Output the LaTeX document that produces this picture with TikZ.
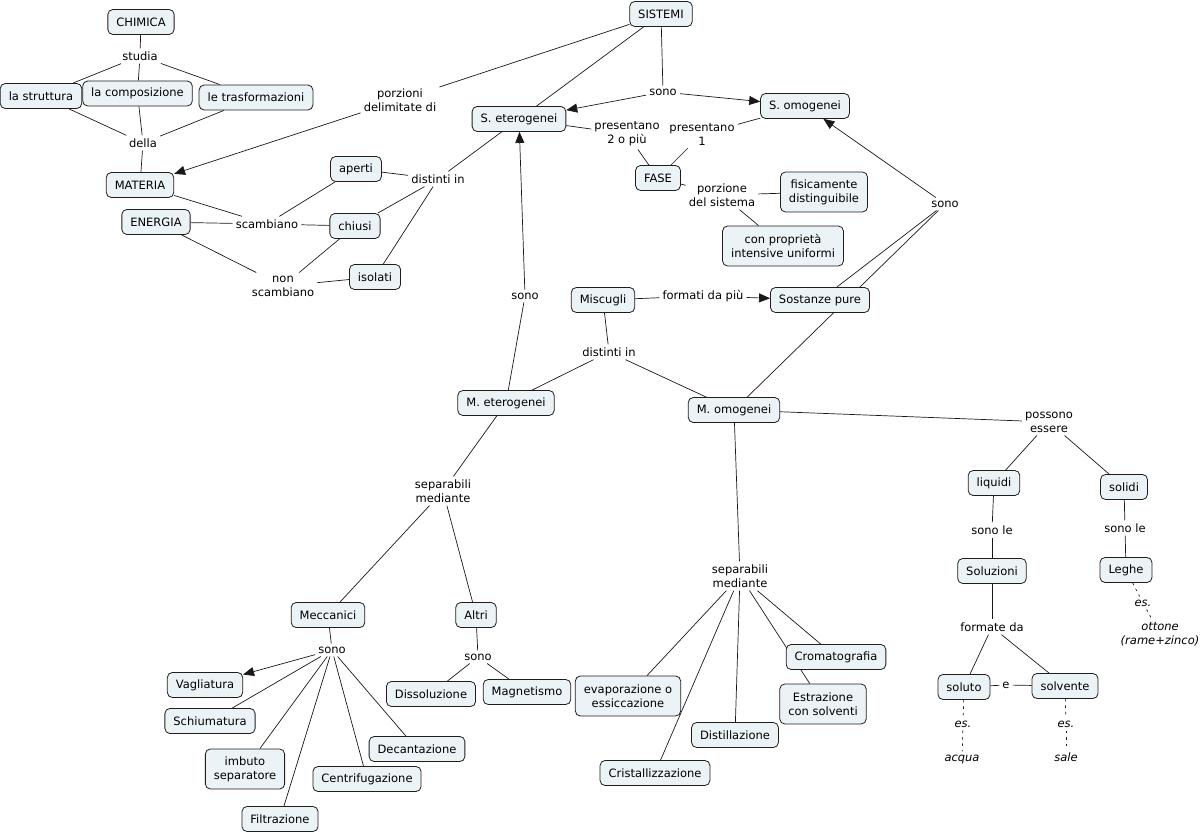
\documentclass[tikz,border=0pt]{standalone}
\usepackage{fontspec}
\setmainfont{DejaVu Sans}
\usetikzlibrary{arrows.meta,backgrounds}
\definecolor{cfill}{RGB}{236,243,246}
\definecolor{cborder}{RGB}{30,30,30}
\tikzset{
  concept/.style={draw=cborder, line width=0.8pt, rounded corners=5pt, fill=cfill,
    inner xsep=8.5pt, inner ysep=0pt, minimum height=25pt, align=center,
    font=\fontsize{11.5}{14}\selectfont},
  concepttwo/.style={concept, minimum height=40pt},
  lab/.style={inner sep=3pt, align=center, font=\fontsize{11.5}{14}\selectfont},
  labit/.style={lab, font=\fontsize{11.5}{14}\selectfont\itshape},
  conn/.style={draw=black!90, line width=0.7pt},
  arr/.style={conn, -{Triangle[length=11pt,width=9pt]}},
  dconn/.style={conn, dash pattern=on 2.5pt off 4pt}
}
\begin{document}
\begin{tikzpicture}[x=1pt,y=-1pt]
\useasboundingbox (0,0) rectangle (1203,834);
% concepts
\node[concept] (chimica) at (141,22) {CHIMICA};
\node[concept] (strutt) at (41,96) {la struttura};
\node[concept] (comp) at (137.5,93.5) {la composizione};
\node[concept] (trasf) at (256,97.5) {le trasformazioni};
\node[concept] (materia) at (140,185) {MATERIA};
\node[concept] (energia) at (156,222) {ENERGIA};
\node[concept] (aperti) at (356,169) {aperti};
\node[concept] (chiusi) at (355,226) {chiusi};
\node[concept] (isolati) at (375,277) {isolati};
\node[concept] (sistemi) at (661,14) {SISTEMI};
\node[concept] (seter) at (519,119) {S. eterogenei};
\node[concept] (somog) at (805,106) {S. omogenei};
\node[concept] (fase) at (658,178) {FASE};
\node[concepttwo] (fisic) at (824,192) {fisicamente\\distinguibile};
\node[concepttwo] (conprop) at (783,246) {con proprietà\\intensive uniformi};
\node[concept] (misc) at (603,300) {Miscugli};
\node[concept] (sost) at (820,300) {Sostanze pure};
\node[concept] (meter) at (506,403) {M. eterogenei};
\node[concept] (momog) at (734,410) {M. omogenei};
\node[concept] (liquidi) at (994,483) {liquidi};
\node[concept] (solidi) at (1124,487) {solidi};
\node[concept] (soluz) at (992,571) {Soluzioni};
\node[concept] (leghe) at (1126,570) {Leghe};
\node[concept] (soluto) at (964,687) {soluto};
\node[concept] (solvente) at (1065,686) {solvente};
\node[concept] (mecc) at (328,615) {Meccanici};
\node[concept] (altri) at (476,615) {Altri};
\node[concept] (vagl) at (205,685) {Vagliatura};
\node[concept] (schium) at (210,721) {Schiumatura};
\node[concepttwo] (imbuto) at (245,769) {imbuto\\separatore};
\node[concept] (filtr) at (280,819) {Filtrazione};
\node[concept] (centr) at (367,779) {Centrifugazione};
\node[concept] (decant) at (417,749) {Decantazione};
\node[concept] (dissol) at (431,694) {Dissoluzione};
\node[concept] (magn) at (527,692) {Magnetismo};
\node[concepttwo] (evap) at (628,696) {evaporazione o\\essiccazione};
\node[concept] (distill) at (735,735) {Distillazione};
\node[concept] (crist) at (655,773) {Cristallizzazione};
\node[concepttwo] (estr) at (823,704) {Estrazione\\con solventi};
\node[concept] (crom) at (836,657) {Cromatografia};
% linking phrases
\node[lab] (studia) at (140,56) {studia};
\node[lab] (della) at (143,143) {della};
\node[lab] (porz) at (400,100) {porzioni\\delimitate di};
\node[lab] (scamb) at (267,224) {scambiano};
\node[lab] (nonscamb) at (283,286) {non\\scambiano};
\node[lab] (dist1) at (438,179) {distinti in};
\node[lab] (sono1) at (663,92) {sono};
\node[lab] (pres2) at (627,134) {presentano\\2 o più};
\node[lab] (pres1) at (702,134) {presentano\\1};
\node[lab] (porzsist) at (722,195) {porzione\\del sistema};
\node[lab] (sono2) at (945,204) {sono};
\node[lab] (sono3) at (525,296) {sono};
\node[lab] (formati) at (703,296) {formati da più};
\node[lab] (dist2) at (609,352) {distinti in};
\node[lab] (sep1) at (443,491) {separabili\\mediante};
\node[lab] (sep2) at (740,576) {separabili\\mediante};
\node[lab] (possono) at (1049,422) {possono\\essere};
\node[lab] (sonole1) at (992,530) {sono le};
\node[lab] (sonole2) at (1125,528) {sono le};
\node[lab] (formate) at (992,627) {formate da};
\node[lab] (e) at (1006,685) {e};
\node[labit] (es1) at (963,724) {es.};
\node[labit] (acqua) at (962,759) {acqua};
\node[labit] (es2) at (1066,724) {es.};
\node[labit] (sale) at (1066,757) {sale};
\node[labit] (es3) at (1143,603) {es.};
\node[labit] (ottone) at (1160,634) {ottone\\(rame+zinco)};
\node[lab] (sono4) at (332,650) {sono};
\node[lab] (sono5) at (478,657) {sono};
% connectors
\begin{pgfonlayer}{background}
\draw[conn] (chimica) -- (studia);
\draw[conn] (studia) -- (strutt);
\draw[conn] (studia) -- (comp);
\draw[conn] (studia) -- (trasf);
\draw[conn] (strutt) -- (della);
\draw[conn] (comp) -- (della);
\draw[conn] (trasf) -- (della);
\draw[conn] (della) -- (materia);
\draw[conn] (sistemi) -- (porz);
\draw[arr] (porz) -- (materia);
\draw[conn] (materia) -- (scamb);
\draw[conn] (energia) -- (scamb);
\draw[conn] (scamb) -- (aperti);
\draw[conn] (scamb) -- (chiusi);
\draw[conn] (energia) -- (nonscamb);
\draw[conn] (nonscamb) -- (chiusi);
\draw[conn] (nonscamb) -- (isolati);
\draw[conn] (sistemi) -- (dist1);
\draw[conn] (dist1) -- (aperti);
\draw[conn] (dist1) -- (chiusi);
\draw[conn] (dist1) -- (isolati);
\draw[conn] (sistemi) -- (sono1);
\draw[arr] (sono1) -- (seter);
\draw[arr] (sono1) -- (somog);
\draw[conn] (seter) -- (pres2);
\draw[conn] (pres2) -- (fase);
\draw[conn] (somog) -- (pres1);
\draw[conn] (pres1) -- (fase);
\draw[conn] (fase) -- (porzsist);
\draw[conn] (porzsist) -- (fisic);
\draw[conn] (porzsist) -- (conprop);
\draw[conn] (meter) -- (sono3);
\draw[arr] (sono3) -- (seter);
\draw[conn] (misc) -- (formati);
\draw[arr] (formati) -- (sost);
\draw[conn] (sost) -- (sono2);
\draw[conn] (momog) -- (sono2);
\draw[arr] (sono2) -- (somog);
\draw[conn] (misc) -- (dist2);
\draw[conn] (dist2) -- (meter);
\draw[conn] (dist2) -- (momog);
\draw[conn] (meter) -- (sep1);
\draw[conn] (sep1) -- (mecc);
\draw[conn] (sep1) -- (altri);
\draw[conn] (mecc) -- (sono4);
\draw[arr] (sono4) -- (vagl);
\draw[conn] (sono4) -- (schium);
\draw[conn] (sono4) -- (imbuto);
\draw[conn] (sono4) -- (filtr);
\draw[conn] (sono4) -- (centr);
\draw[conn] (sono4) -- (decant);
\draw[conn] (altri) -- (sono5);
\draw[conn] (sono5) -- (dissol);
\draw[conn] (sono5) -- (magn);
\draw[conn] (momog) -- (sep2);
\draw[conn] (sep2) -- (evap);
\draw[conn] (sep2) -- (crist);
\draw[conn] (sep2) -- (distill);
\draw[conn] (sep2) -- (estr);
\draw[conn] (sep2) -- (crom);
\draw[conn] (momog) -- (possono);
\draw[conn] (possono) -- (liquidi);
\draw[conn] (possono) -- (solidi);
\draw[conn] (liquidi) -- (sonole1);
\draw[conn] (sonole1) -- (soluz);
\draw[conn] (soluz) -- (formate);
\draw[conn] (formate) -- (soluto);
\draw[conn] (formate) -- (solvente);
\draw[conn] (soluto) -- (e);
\draw[conn] (e) -- (solvente);
\draw[conn] (solidi) -- (sonole2);
\draw[conn] (sonole2) -- (leghe);
\draw[dconn] (soluto) -- (es1);
\draw[dconn] (es1) -- (acqua);
\draw[dconn] (solvente) -- (es2);
\draw[dconn] (es2) -- (sale);
\draw[dconn] (leghe) -- (es3);
\draw[dconn] (es3) -- (ottone);
\end{pgfonlayer}
\end{tikzpicture}
\end{document}
